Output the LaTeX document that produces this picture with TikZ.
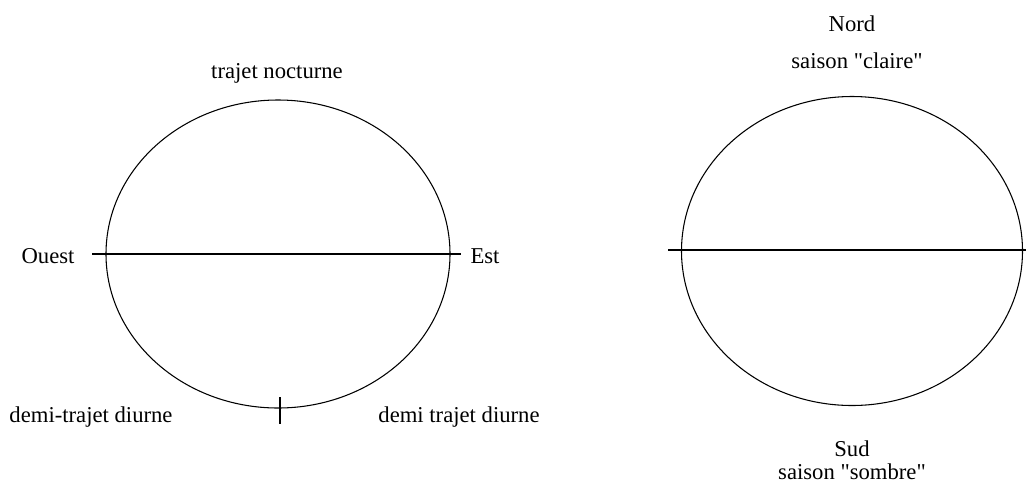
\documentclass[tikz,border=0pt]{standalone}
\usepackage{fontspec}
\setmainfont{Liberation Serif}[Ligatures=TeXOff]
\usetikzlibrary{shapes.geometric}
\begin{document}
\begin{tikzpicture}[x=0.75pt,y=-0.75pt,
  orbit/.style={draw,ellipse,line width=0.8pt,inner sep=0pt,outer sep=0pt},
  lbl/.style={font=\fontsize{17}{19}\selectfont,inner sep=0pt,anchor=center},
  axis/.style={line width=0.8pt}]
\useasboundingbox (0,0) rectangle (1029,483);
% left ellipse
\node[orbit,minimum width=344*0.75pt,minimum height=308*0.75pt] (L) at (278,254) {};
\coordinate (Lw) at (92,254);
\coordinate (Le) at (461,254);
\draw[axis] (Lw) -- (Le);
\coordinate (Tt) at (280,397);
\coordinate (Tb) at (280,424);
\draw[axis] (Tt) -- (Tb);
\node[lbl] (noct) at (277,73) {trajet nocturne};
\node[lbl] (ouest) at (48,256) {Ouest};
\node[lbl] (est) at (485,256) {Est};
\node[lbl] (d1) at (91,417) {demi-trajet diurne};
\node[lbl] (d2) at (459,417) {demi trajet diurne};
% right ellipse
\node[orbit,minimum width=341*0.75pt,minimum height=309*0.75pt] (R) at (852,251) {};
\coordinate (Rw) at (668,250);
\coordinate (Re) at (1026,250);
\draw[axis] (Rw) -- (Re);
\node[lbl] (nord) at (852,24) {Nord};
\node[lbl] (claire) at (857,61) {saison "claire"};
\node[lbl] (sud) at (852,449) {Sud};
\node[lbl] (sombre) at (852,472) {saison "sombre"};
\end{tikzpicture}
\end{document}
